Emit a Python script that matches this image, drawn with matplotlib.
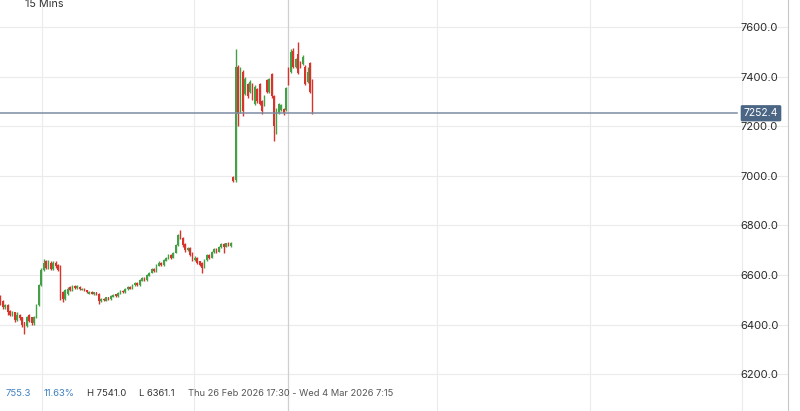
import numpy as np
import matplotlib
matplotlib.use('Agg')
from matplotlib import pyplot as plt

plt.rcParams['font.family'] = ['Inter', 'DejaVu Sans']

# 15 min candles
opens = [6510, 6495, 6470, 6480, 6455, 6440, 6450, 6420, 6440, 6430,
         6410, 6395, 6440, 6430, 6405, 6430, 6480, 6560, 6620, 6655,
         6630, 6650, 6625, 6650, 6640, 6630, 6530, 6505, 6525, 6550,
         6540, 6555, 6548, 6552, 6540, 6545, 6538, 6525, 6532, 6524,
         6530, 6525, 6495, 6505, 6497, 6510, 6502, 6512, 6522, 6514,
         6526, 6536, 6530, 6543, 6552, 6545, 6558, 6570, 6560, 6578,
         6590, 6580, 6598, 6610, 6625, 6615, 6638, 6650, 6640, 6658,
         6668, 6680, 6670, 6690, 6720, 6770, 6750, 6725, 6700, 6710,
         6690, 6660, 6670, 6655, 6650, 6630, 6660, 6680, 6670, 6695,
         6705, 6695, 6712, 6725, 6715, 6730, 6718, 6995, 6985, 7440,
         7260, 7420, 7330, 7370, 7340, 7370, 7290, 7350, 7370, 7300,
         7285, 7385, 7340, 7410, 7320, 7220, 7255, 7265, 7270, 7265,
         7435, 7420, 7505, 7440, 7490, 7460, 7450, 7440, 7380, 7455,
         7385]
closes = [6490, 6470, 6480, 6450, 6440, 6450, 6420, 6440, 6425, 6400,
          6395, 6430, 6415, 6405, 6430, 6480, 6560, 6620, 6650, 6630,
          6655, 6625, 6650, 6635, 6620, 6510, 6505, 6540, 6545, 6540,
          6555, 6548, 6556, 6545, 6544, 6540, 6530, 6532, 6525, 6530,
          6522, 6495, 6505, 6498, 6510, 6502, 6515, 6520, 6514, 6528,
          6536, 6530, 6545, 6552, 6545, 6560, 6570, 6560, 6580, 6590,
          6580, 6600, 6610, 6625, 6615, 6640, 6650, 6640, 6660, 6670,
          6680, 6670, 6690, 6720, 6760, 6750, 6720, 6700, 6710, 6680,
          6660, 6670, 6650, 6640, 6630, 6660, 6680, 6670, 6695, 6705,
          6695, 6715, 6725, 6715, 6728, 6720, 6730, 6980, 7440, 7250,
          7420, 7260, 7390, 7320, 7380, 7310, 7360, 7300, 7290, 7260,
          7320, 7340, 7390, 7320, 7200, 7270, 7290, 7285, 7255, 7355,
          7370, 7500, 7440, 7470, 7415, 7440, 7480, 7370, 7420, 7340,
          7252.4]
highs = [6520, 6500, 6485, 6485, 6460, 6455, 6452, 6450, 6445, 6432,
         6412, 6435, 6445, 6432, 6435, 6485, 6565, 6630, 6665, 6662,
         6660, 6655, 6655, 6655, 6645, 6640, 6535, 6545, 6550, 6555,
         6560, 6558, 6560, 6555, 6546, 6547, 6540, 6535, 6534, 6532,
         6532, 6528, 6508, 6507, 6512, 6512, 6518, 6524, 6525, 6530,
         6540, 6538, 6548, 6556, 6555, 6563, 6574, 6573, 6583, 6594,
         6592, 6603, 6614, 6630, 6628, 6643, 6655, 6652, 6663, 6674,
         6684, 6683, 6694, 6725, 6765, 6781, 6755, 6728, 6715, 6712,
         6693, 6675, 6672, 6658, 6652, 6663, 6684, 6683, 6698, 6710,
         6708, 6718, 6728, 6728, 6731, 6733, 6733, 6998, 7510, 7445,
         7440, 7425, 7400, 7375, 7385, 7375, 7365, 7355, 7375, 7305,
         7325, 7390, 7395, 7415, 7325, 7275, 7295, 7290, 7272, 7360,
         7438, 7510, 7515, 7475, 7541, 7465, 7488, 7445, 7440, 7460,
         7390]
lows = [6480, 6465, 6465, 6440, 6435, 6435, 6410, 6415, 6420, 6390,
        6361.1, 6390, 6410, 6400, 6400, 6425, 6475, 6555, 6615, 6625,
        6625, 6620, 6620, 6630, 6615, 6500, 6490, 6500, 6520, 6535,
        6535, 6545, 6545, 6540, 6538, 6536, 6526, 6522, 6522, 6520,
        6518, 6485, 6492, 6494, 6494, 6498, 6500, 6510, 6510, 6512,
        6524, 6527, 6528, 6540, 6542, 6543, 6555, 6557, 6557, 6575,
        6576, 6577, 6595, 6607, 6612, 6612, 6635, 6636, 6637, 6655,
        6665, 6666, 6667, 6687, 6717, 6745, 6715, 6695, 6696, 6675,
        6655, 6656, 6645, 6635, 6610, 6627, 6656, 6665, 6667, 6690,
        6690, 6692, 6708, 6690, 6712, 6716, 6715, 6975, 6975, 7200,
        7255, 7240, 7325, 7315, 7335, 7305, 7285, 7295, 7285, 7250,
        7280, 7335, 7335, 7315, 7140, 7170, 7250, 7260, 7245, 7260,
        7365, 7415, 7435, 7435, 7410, 7435, 7445, 7365, 7375, 7335,
        7250]

last_price = 7252.4
y_ticks = [6200, 6400, 6600, 6800, 7000, 7200, 7400, 7600]
# time grid lines (candle index) and crosshair
time_grid = [17.5, 80.8, 182.0, 245.8, 309.0]
crosshair = 120

o = np.array(opens)
c = np.array(closes)
h = np.array(highs)
l = np.array(lows)
idx = np.arange(len(o))
up = c >= o
green = '#43a047'
red = '#d9342b'
cols = np.where(up, green, red)

fig = plt.figure(figsize=(8, 4.11), dpi=100)
ax = fig.add_axes([0, 0, 788 / 800, 1])

# grid
for p in y_ticks:
    ax.axhline(p, color='#ebebeb', lw=0.8, zorder=0)
for t in time_grid:
    ax.axvline(t, color='#ebebeb', lw=0.8, zorder=0)
ax.axvline(crosshair, color='#cfcfcf', lw=0.9, zorder=0)

# candles
ax.vlines(idx, l, h, colors=cols, lw=1, zorder=2)
body = np.maximum(np.abs(c - o), 3)
ax.bar(idx, body, bottom=np.minimum(o, c), width=0.75, color=cols, lw=0, zorder=3)

# last price line and tag
ax.axhline(last_price, xmax=737 / 788, color='#7d8ca3', lw=1.1, zorder=4)
ax.text(761 / 788, last_price, f'{last_price:.1f}', transform=ax.get_yaxis_transform(),
        ha='center', va='center', color='white', fontsize=7.5, zorder=6,
        bbox=dict(boxstyle='round,pad=0.3,rounding_size=0.15', fc='#4b6584', ec='none'))

ax.set_xlim(-0.2, -0.2 + 788 / 2.4)
ax.set_ylim(6052, 7709)
ax.set_yticks(y_ticks)
ax.set_yticklabels([f'{v:.1f}' for v in y_ticks])
ax.yaxis.tick_right()
ax.tick_params(axis='y', direction='in', length=0, pad=-34, labelsize=8, colors='#2a2a2a')
ax.set_xticks([])
for s in ['top', 'left', 'bottom']:
    ax.spines[s].set_visible(False)
ax.spines['right'].set_color('#c8c8c8')

# header / footer text
fig.text(25 / 800, 1 - 4 / 411, '15 Mins', fontsize=7.8, color='#333333', va='center')
fy = 1 - 393 / 411
fig.text(6 / 800, fy, '755.3', fontsize=6.8, color='#3d7fc1', va='center')
fig.text(44 / 800, fy, '11.63%', fontsize=6.8, color='#3d7fc1', va='center')
fig.text(87 / 800, fy, 'H 7541.0', fontsize=6.8, color='#333333', va='center')
fig.text(139 / 800, fy, 'L 6361.1', fontsize=6.8, color='#333333', va='center')
fig.text(188 / 800, fy, 'Thu 26 Feb 2026 17:30 - Wed 4 Mar 2026 7:15', fontsize=6.7,
         color='#555555', va='center')

fig.savefig('out.png', dpi=100, facecolor='white')
